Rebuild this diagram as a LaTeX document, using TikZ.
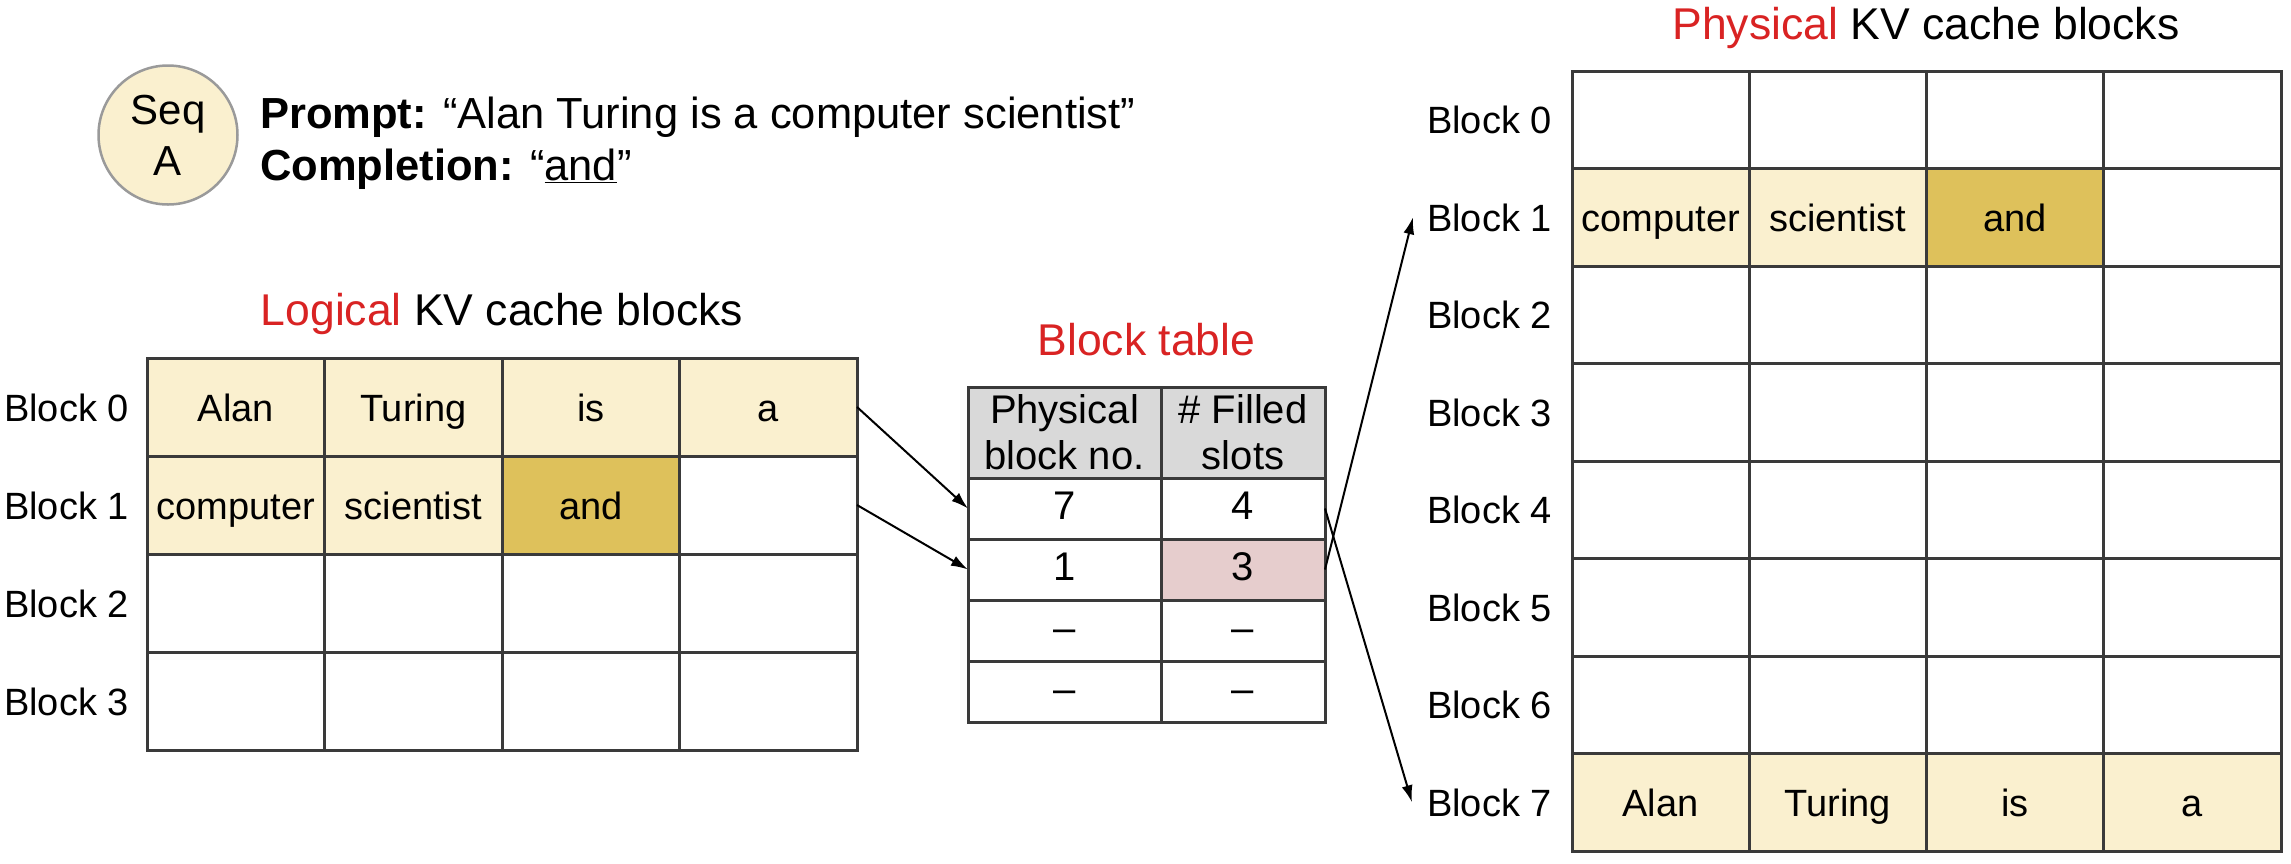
\documentclass[tikz,border=0pt]{standalone}
\usepackage{fontspec}
\setmainfont{Liberation Sans}
\usetikzlibrary{arrows.meta}
\definecolor{lightyel}{HTML}{FAF0CF}
\definecolor{goldc}{HTML}{DEC15B}
\definecolor{hdrgray}{HTML}{D9D9D9}
\definecolor{pinkc}{HTML}{E6CDCD}
\definecolor{redt}{HTML}{D92323}
\definecolor{gridc}{HTML}{3A3A3A}
\definecolor{circgray}{HTML}{9A9A9A}
\begin{document}
\begin{tikzpicture}[x=1pt,y=-1pt,
  cellbase/.style={draw=gridc, line width=3pt, inner sep=0pt, outer sep=0pt, anchor=north west,
    font=\fontsize{38}{44}\selectfont, text height=32pt, text depth=4pt},
  lcell/.style={cellbase, minimum width=177.5pt, minimum height=98pt},
  pcell/.style={cellbase, minimum width=177.25pt, minimum height=97.5pt},
  tcell/.style={cellbase, font=\fontsize{40}{46}\selectfont, text height=29pt, text depth=8pt},
  hcell/.style={draw=gridc, line width=3pt, inner sep=0pt, outer sep=0pt, anchor=north west,
    fill=hdrgray, align=center, font=\fontsize{40}{46}\selectfont, minimum height=91pt},
  blabel/.style={anchor=east, inner sep=0pt, font=\fontsize{38}{44}\selectfont, text height=32pt, text depth=4pt},
  titlenode/.style={inner sep=0pt, font=\fontsize{44.5}{50}\selectfont},
  arr/.style={line width=2pt, -{Latex[length=17pt,width=11pt]}}
]
\useasboundingbox (0,0) rectangle (2291,863);
\fill[white] (0,0) rectangle (2291,863);

% Sequence header
\node[circle, draw=circgray, fill=lightyel, line width=2.5pt, minimum size=139pt, inner sep=0pt,
  align=center, font=\fontsize{42}{51}\selectfont] (seq) at (168,135) {Seq\\A};
\node[anchor=base west, inner sep=0pt, font=\fontsize{43.5}{50}\selectfont] (prompt) at (260,128)
  {\textbf{Prompt:} “Alan Turing is a computer scientist”};
\node[anchor=base west, inner sep=0pt, font=\fontsize{43.5}{50}\selectfont] (compl) at (260,180)
  {\textbf{Completion:} “\underline{and}”};

% Titles
\node[titlenode] (ltitle) at (502,314) {\textcolor{redt}{Logical} KV cache blocks};
\node[titlenode] (btitle) at (1146.5,340) {\textcolor{redt}{Block table}};
\node[titlenode] (ptitle) at (1926,28) {\textcolor{redt}{Physical} KV cache blocks};

% Logical grid
\foreach \c/\t in {0/Alan,1/Turing,2/is,3/a}
  \node[lcell, fill=lightyel] (L-0-\c) at ({147+177.5*\c},358) {\t};
\foreach \c/\t/\f in {0/computer/lightyel,1/scientist/lightyel,2/and/goldc,3//white}
  \node[lcell, fill=\f] (L-1-\c) at ({147+177.5*\c},456) {\t};
\foreach \r in {2,3}
  \foreach \c in {0,...,3}
    \node[lcell, fill=white] (L-\r-\c) at ({147+177.5*\c},{358+98*\r}) {};
\foreach \r in {0,...,3}
  \node[blabel] (LB\r) at (129,{407+98*\r}) {Block \r};

% Block table
\node[hcell, minimum width=193pt] (T-0-0) at (968,387) {Physical\\block no.};
\node[hcell, minimum width=164pt] (T-0-1) at (1161,387) {\# Filled\\slots};
\foreach \r/\a/\b/\f/\y in {1/7/4/white/478,2/1/3/pinkc/539,3/–/–/white/600,4/–/–/white/661}
  {
  \node[tcell, minimum width=193pt, minimum height=61pt, fill=white] (T-\r-0) at (968,\y) {\a};
  \node[tcell, minimum width=164pt, minimum height=61pt, fill=\f] (T-\r-1) at (1161,\y) {\b};
  }

% Physical grid
\foreach \r in {0,2,3,4,5,6}
  \foreach \c in {0,...,3}
    \node[pcell, fill=white] (P-\r-\c) at ({1572+177.25*\c},{71+97.5*\r}) {};
\foreach \c/\t/\f in {0/computer/lightyel,1/scientist/lightyel,2/and/goldc,3//white}
  \node[pcell, fill=\f] (P-1-\c) at ({1572+177.25*\c},168.5) {\t};
\foreach \c/\t in {0/Alan,1/Turing,2/is,3/a}
  \node[pcell, fill=lightyel] (P-7-\c) at ({1572+177.25*\c},753.5) {\t};
\foreach \r in {0,...,7}
  \node[blabel] (PB\r) at (1552,{119.75+97.5*\r}) {Block \r};

% Connectors
\draw[arr] (L-0-3.east) -- (T-1-0.west);
\draw[arr] (L-1-3.east) -- (T-2-0.west);
\draw[arr] (T-1-1.east) -- ([xshift=-15pt]PB7.west);
\draw[arr] (T-2-1.east) -- ([xshift=-14pt]PB1.west);
\end{tikzpicture}
\end{document}
